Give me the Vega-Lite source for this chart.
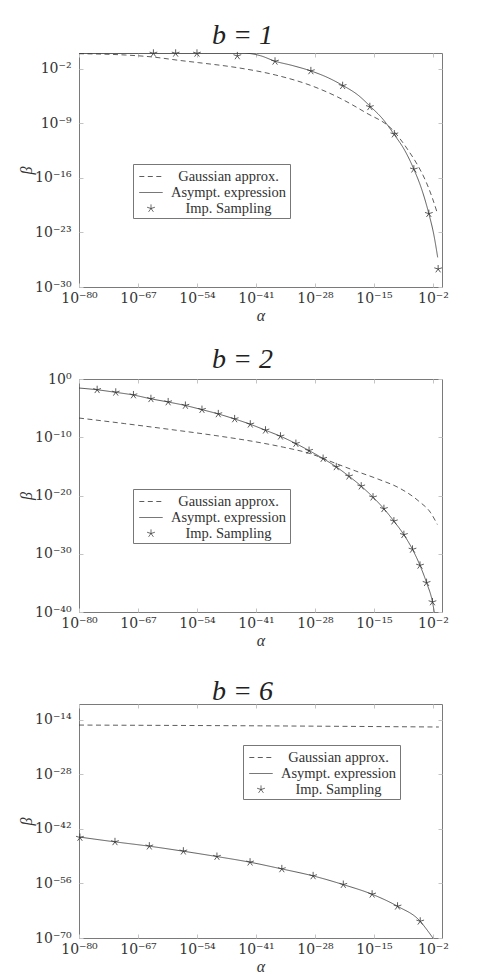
{
  "$schema": "https://vega.github.io/schema/vega-lite/v6.json",
  "background": "white",
  "padding": {"left": 18, "top": 21, "right": 5, "bottom": 5},
  "bounds": "flush",
  "spacing": 92,
  "resolve": {"scale": {"shape": "independent", "strokeDash": "independent"}},
  "config": {
    "view": {"stroke": "#7a7a7a", "strokeWidth": 1},
    "axis": {
      "domain": false, "grid": false, "ticks": true, "tickColor": "#c4c4c4", "tickSize": -4, "tickWidth": 1,
      "labelFont": "DejaVu Serif", "labelFontSize": 14, "labelColor": "#333333", "labelFlush": false, "labelOverlap": false,
      "titleFont": "Liberation Serif", "titleFontSize": 16, "titleFontStyle": "italic", "titleFontWeight": "normal", "titleColor": "#333333",
      "labelExpr": "'10' + replace(replace(replace(replace(replace(replace(replace(replace(replace(replace(replace('' + round(log(datum.value) / LN10), '-', '⁻'), regexp('0', 'g'), '⁰'), regexp('1', 'g'), '¹'), regexp('2', 'g'), '²'), regexp('3', 'g'), '³'), regexp('4', 'g'), '⁴'), regexp('5', 'g'), '⁵'), regexp('6', 'g'), '⁶'), regexp('7', 'g'), '⁷'), regexp('8', 'g'), '⁸'), regexp('9', 'g'), '⁹')"
    },
    "title": {"font": "Liberation Serif", "fontSize": 28, "fontStyle": "italic", "fontWeight": "normal", "color": "#222222", "anchor": "middle", "frame": "group", "dx": -18, "offset": -2, "baseline": "alphabetic"},
    "legend": {
      "strokeColor": "#777777", "fillColor": "white", "padding": 3, "symbolSize": 324, "symbolOffset": 5.5,
      "symbolStrokeColor": "#333333", "symbolStrokeWidth": 0.8, "symbolFillColor": "transparent",
      "labelFont": "Liberation Serif", "labelFontSize": 14.5, "labelColor": "#333333", "labelAlign": "center", "labelOffset": 68,
      "rowPadding": 0, "labelLimit": 300
    }
  },
  "datasets": {
    "l1": [
      {"alpha": 1e-80, "beta": 0.81, "series": "Gaussian approx."},
      {"alpha": 2.0e-70, "beta": 0.55, "series": "Gaussian approx."},
      {"alpha": 1.585e-64, "beta": 0.309, "series": "Gaussian approx."},
      {"alpha": 1e-58, "beta": 0.115, "series": "Gaussian approx."},
      {"alpha": 2.512e-54, "beta": 5.75e-2, "series": "Gaussian approx."},
      {"alpha": 7.943e-46, "beta": 1.318e-2, "series": "Gaussian approx."},
      {"alpha": 1.995e-37, "beta": 1.514e-3, "series": "Gaussian approx."},
      {"alpha": 2.512e-29, "beta": 5.888e-5, "series": "Gaussian approx."},
      {"alpha": 1.995e-23, "beta": 1.862e-6, "series": "Gaussian approx."},
      {"alpha": 1.585e-17, "beta": 2.239e-8, "series": "Gaussian approx."},
      {"alpha": 1e-11, "beta": 1.622e-10, "series": "Gaussian approx."},
      {"alpha": 5.012e-8, "beta": 2.512e-13, "series": "Gaussian approx."},
      {"alpha": 3.548e-6, "beta": 5.012e-15, "series": "Gaussian approx."},
      {"alpha": 2.512e-4, "beta": 3.981e-17, "series": "Gaussian approx."},
      {"alpha": 7.079e-3, "beta": 2.818e-19, "series": "Gaussian approx."},
      {"alpha": 8.913e-2, "beta": 3.162e-21, "series": "Gaussian approx."},
      {"alpha": 1e-80, "beta": 1, "series": "Asympt. expression"},
      {"alpha": 1e-44, "beta": 1, "series": "Asympt. expression"},
      {"alpha": 1e-40, "beta": 0.4467, "series": "Asympt. expression"},
      {"alpha": 1.585e-37, "beta": 8.913e-2, "series": "Asympt. expression"},
      {"alpha": 1e-33, "beta": 2.512e-2, "series": "Asympt. expression"},
      {"alpha": 1.259e-29, "beta": 5.012e-3, "series": "Asympt. expression"},
      {"alpha": 1e-25, "beta": 6.310e-4, "series": "Asympt. expression"},
      {"alpha": 1.259e-22, "beta": 7.079e-5, "series": "Asympt. expression"},
      {"alpha": 3.162e-19, "beta": 3.981e-6, "series": "Asympt. expression"},
      {"alpha": 1.585e-16, "beta": 1.413e-7, "series": "Asympt. expression"},
      {"alpha": 1e-13, "beta": 3.162e-9, "series": "Asympt. expression"},
      {"alpha": 2.512e-11, "beta": 3.981e-11, "series": "Asympt. expression"},
      {"alpha": 6.310e-9, "beta": 3.162e-13, "series": "Asympt. expression"},
      {"alpha": 6.310e-7, "beta": 1.259e-15, "series": "Asympt. expression"},
      {"alpha": 3.981e-5, "beta": 2.512e-18, "series": "Asympt. expression"},
      {"alpha": 1.259e-3, "beta": 2.512e-21, "series": "Asympt. expression"},
      {"alpha": 1.585e-2, "beta": 5.012e-24, "series": "Asympt. expression"},
      {"alpha": 0.1122, "beta": 6.310e-27, "series": "Asympt. expression"}
    ],
    "p1": [
      {"alpha": 2.512e-64, "beta": 0.9, "series": "Imp. Sampling"},
      {"alpha": 1.995e-59, "beta": 0.9, "series": "Imp. Sampling"},
      {"alpha": 1e-54, "beta": 0.9, "series": "Imp. Sampling"},
      {"alpha": 7.943e-46, "beta": 0.417, "series": "Imp. Sampling"},
      {"alpha": 1.585e-37, "beta": 8.511e-2, "series": "Imp. Sampling"},
      {"alpha": 1.259e-29, "beta": 5.012e-3, "series": "Imp. Sampling"},
      {"alpha": 1.259e-22, "beta": 6.310e-5, "series": "Imp. Sampling"},
      {"alpha": 1.259e-16, "beta": 1.259e-7, "series": "Imp. Sampling"},
      {"alpha": 3.162e-11, "beta": 3.981e-11, "series": "Imp. Sampling"},
      {"alpha": 6.310e-7, "beta": 1.259e-15, "series": "Imp. Sampling"},
      {"alpha": 1.259e-3, "beta": 2.512e-21, "series": "Imp. Sampling"},
      {"alpha": 0.1413, "beta": 1.995e-28, "series": "Imp. Sampling"}
    ],
    "l2": [
      {"alpha": 1e-80, "beta": 1.995e-7, "series": "Gaussian approx."},
      {"alpha": 1e-70, "beta": 2.239e-8, "series": "Gaussian approx."},
      {"alpha": 1e-60, "beta": 2.239e-9, "series": "Gaussian approx."},
      {"alpha": 1e-50, "beta": 1.995e-10, "series": "Gaussian approx."},
      {"alpha": 1e-41, "beta": 1.585e-11, "series": "Gaussian approx."},
      {"alpha": 1e-35, "beta": 1.995e-12, "series": "Gaussian approx."},
      {"alpha": 5.012e-30, "beta": 1.778e-13, "series": "Gaussian approx."},
      {"alpha": 3.981e-24, "beta": 3.162e-15, "series": "Gaussian approx."},
      {"alpha": 1e-19, "beta": 1.585e-16, "series": "Gaussian approx."},
      {"alpha": 1.259e-14, "beta": 5.754e-18, "series": "Gaussian approx."},
      {"alpha": 3.162e-10, "beta": 2.089e-19, "series": "Gaussian approx."},
      {"alpha": 7.943e-6, "beta": 1.047e-21, "series": "Gaussian approx."},
      {"alpha": 3.162e-3, "beta": 1.096e-23, "series": "Gaussian approx."},
      {"alpha": 9.333e-2, "beta": 1.072e-25, "series": "Gaussian approx."},
      {"alpha": 1e-80, "beta": 2.818e-2, "series": "Asympt. expression"},
      {"alpha": 1e-76, "beta": 1.413e-2, "series": "Asympt. expression"},
      {"alpha": 1.259e-72, "beta": 5.129e-3, "series": "Asympt. expression"},
      {"alpha": 1e-68, "beta": 1.778e-3, "series": "Asympt. expression"},
      {"alpha": 7.079e-65, "beta": 3.981e-4, "series": "Asympt. expression"},
      {"alpha": 4.467e-61, "beta": 1.122e-4, "series": "Asympt. expression"},
      {"alpha": 2.818e-57, "beta": 2.818e-5, "series": "Asympt. expression"},
      {"alpha": 1.259e-53, "beta": 5.495e-6, "series": "Asympt. expression"},
      {"alpha": 5.012e-50, "beta": 1e-6, "series": "Asympt. expression"},
      {"alpha": 1.995e-46, "beta": 1.380e-7, "series": "Asympt. expression"},
      {"alpha": 5.623e-43, "beta": 1.698e-8, "series": "Asympt. expression"},
      {"alpha": 1.259e-39, "beta": 1.585e-9, "series": "Asympt. expression"},
      {"alpha": 2.512e-36, "beta": 1.479e-10, "series": "Asympt. expression"},
      {"alpha": 6.310e-33, "beta": 8.128e-12, "series": "Asympt. expression"},
      {"alpha": 5.012e-30, "beta": 5.129e-13, "series": "Asympt. expression"},
      {"alpha": 6.310e-27, "beta": 2.188e-14, "series": "Asympt. expression"},
      {"alpha": 5.012e-24, "beta": 8.128e-16, "series": "Asympt. expression"},
      {"alpha": 3.162e-21, "beta": 2.042e-17, "series": "Asympt. expression"},
      {"alpha": 1.585e-18, "beta": 3.981e-19, "series": "Asympt. expression"},
      {"alpha": 6.310e-16, "beta": 5.129e-21, "series": "Asympt. expression"},
      {"alpha": 1.585e-13, "beta": 5.248e-23, "series": "Asympt. expression"},
      {"alpha": 2.512e-11, "beta": 3.981e-25, "series": "Asympt. expression"},
      {"alpha": 3.981e-9, "beta": 1.820e-27, "series": "Asympt. expression"},
      {"alpha": 3.162e-7, "beta": 5.623e-30, "series": "Asympt. expression"},
      {"alpha": 1.413e-5, "beta": 1e-32, "series": "Asympt. expression"},
      {"alpha": 3.981e-4, "beta": 1.072e-35, "series": "Asympt. expression"},
      {"alpha": 7.943e-3, "beta": 5.248e-39, "series": "Asympt. expression"},
      {"alpha": 1.995e-2, "beta": 1e-40, "series": "Asympt. expression"}
    ],
    "p2": [
      {"alpha": 1e-76, "beta": 1.413e-2, "series": "Imp. Sampling"},
      {"alpha": 1.259e-72, "beta": 5.129e-3, "series": "Imp. Sampling"},
      {"alpha": 1e-68, "beta": 1.778e-3, "series": "Imp. Sampling"},
      {"alpha": 7.079e-65, "beta": 3.981e-4, "series": "Imp. Sampling"},
      {"alpha": 4.467e-61, "beta": 1.122e-4, "series": "Imp. Sampling"},
      {"alpha": 2.818e-57, "beta": 2.818e-5, "series": "Imp. Sampling"},
      {"alpha": 1.259e-53, "beta": 5.495e-6, "series": "Imp. Sampling"},
      {"alpha": 5.012e-50, "beta": 1e-6, "series": "Imp. Sampling"},
      {"alpha": 1.995e-46, "beta": 1.380e-7, "series": "Imp. Sampling"},
      {"alpha": 5.623e-43, "beta": 1.698e-8, "series": "Imp. Sampling"},
      {"alpha": 1.259e-39, "beta": 1.585e-9, "series": "Imp. Sampling"},
      {"alpha": 2.512e-36, "beta": 1.479e-10, "series": "Imp. Sampling"},
      {"alpha": 6.310e-33, "beta": 8.128e-12, "series": "Imp. Sampling"},
      {"alpha": 5.012e-30, "beta": 5.129e-13, "series": "Imp. Sampling"},
      {"alpha": 6.310e-27, "beta": 2.188e-14, "series": "Imp. Sampling"},
      {"alpha": 5.012e-24, "beta": 8.128e-16, "series": "Imp. Sampling"},
      {"alpha": 3.162e-21, "beta": 2.042e-17, "series": "Imp. Sampling"},
      {"alpha": 1.585e-18, "beta": 3.981e-19, "series": "Imp. Sampling"},
      {"alpha": 6.310e-16, "beta": 5.129e-21, "series": "Imp. Sampling"},
      {"alpha": 1.585e-13, "beta": 5.248e-23, "series": "Imp. Sampling"},
      {"alpha": 2.512e-11, "beta": 3.981e-25, "series": "Imp. Sampling"},
      {"alpha": 3.981e-9, "beta": 1.820e-27, "series": "Imp. Sampling"},
      {"alpha": 3.162e-7, "beta": 5.623e-30, "series": "Imp. Sampling"},
      {"alpha": 1.413e-5, "beta": 1e-32, "series": "Imp. Sampling"},
      {"alpha": 3.981e-4, "beta": 1.072e-35, "series": "Imp. Sampling"},
      {"alpha": 7.943e-3, "beta": 5.248e-39, "series": "Imp. Sampling"}
    ],
    "l3": [
      {"alpha": 1e-80, "beta": 3.981e-16, "series": "Gaussian approx."},
      {"alpha": 1e-40, "beta": 2.512e-16, "series": "Gaussian approx."},
      {"alpha": 0.1995, "beta": 1.259e-16, "series": "Gaussian approx."},
      {"alpha": 1e-80, "beta": 7.943e-45, "series": "Asympt. expression"},
      {"alpha": 8.511e-73, "beta": 4.467e-46, "series": "Asympt. expression"},
      {"alpha": 3.162e-65, "beta": 3.467e-47, "series": "Asympt. expression"},
      {"alpha": 1e-57, "beta": 1.778e-48, "series": "Asympt. expression"},
      {"alpha": 2.512e-50, "beta": 7.586e-50, "series": "Asympt. expression"},
      {"alpha": 5.012e-43, "beta": 2.692e-51, "series": "Asympt. expression"},
      {"alpha": 5.012e-36, "beta": 5.129e-53, "series": "Asympt. expression"},
      {"alpha": 3.981e-29, "beta": 8.318e-55, "series": "Asympt. expression"},
      {"alpha": 1.778e-22, "beta": 4.898e-57, "series": "Asympt. expression"},
      {"alpha": 3.981e-16, "beta": 1.622e-59, "series": "Asympt. expression"},
      {"alpha": 1.585e-10, "beta": 1.349e-62, "series": "Asympt. expression"},
      {"alpha": 1.585e-5, "beta": 1.905e-66, "series": "Asympt. expression"},
      {"alpha": 5.623e-4, "beta": 1e-68, "series": "Asympt. expression"},
      {"alpha": 1e-2, "beta": 1e-70, "series": "Asympt. expression"}
    ],
    "p3": [
      {"alpha": 1.585e-80, "beta": 5.754e-45, "series": "Imp. Sampling"},
      {"alpha": 8.511e-73, "beta": 4.467e-46, "series": "Imp. Sampling"},
      {"alpha": 3.162e-65, "beta": 3.467e-47, "series": "Imp. Sampling"},
      {"alpha": 1e-57, "beta": 1.778e-48, "series": "Imp. Sampling"},
      {"alpha": 2.512e-50, "beta": 7.586e-50, "series": "Imp. Sampling"},
      {"alpha": 5.012e-43, "beta": 2.692e-51, "series": "Imp. Sampling"},
      {"alpha": 5.012e-36, "beta": 5.129e-53, "series": "Imp. Sampling"},
      {"alpha": 3.981e-29, "beta": 8.318e-55, "series": "Imp. Sampling"},
      {"alpha": 1.778e-22, "beta": 4.898e-57, "series": "Imp. Sampling"},
      {"alpha": 3.981e-16, "beta": 1.622e-59, "series": "Imp. Sampling"},
      {"alpha": 1.585e-10, "beta": 1.349e-62, "series": "Imp. Sampling"},
      {"alpha": 1.585e-5, "beta": 1.905e-66, "series": "Imp. Sampling"}
    ]
  },
  "vconcat": [
    {
      "width": 363, "height": 234,
      "title": {"text": "b = 1"},
      "resolve": {"axis": {"x": "independent", "y": "independent"}},
      "layer": [
        {
          "data": {"name": "l1"},
          "mark": {"type": "line", "strokeWidth": 0.8, "color": "#333333", "interpolate": "monotone", "clip": true},
          "encoding": {
            "x": {"field": "alpha", "type": "quantitative", "scale": {"type": "log", "domain": [1e-80, 1], "nice": false},
                  "axis": {"orient": "bottom", "values": [1e-80, 1e-67, 1e-54, 1e-41, 1e-28, 1e-15, 1e-2], "title": "α", "labelPadding": 8, "titlePadding": 2}},
            "y": {"field": "beta", "type": "quantitative", "scale": {"type": "log", "domain": [1e-30, 1], "nice": false},
                  "axis": {"orient": "left", "values": [1e-30, 1e-23, 1e-16, 1e-9, 1e-2], "title": "β", "labelPadding": 12, "titlePadding": 0}},
            "strokeDash": {"field": "series", "type": "nominal",
                  "scale": {"domain": ["Gaussian approx.", "Asympt. expression", "Imp. Sampling"], "range": [[5, 3.5], [1, 0], [1, 0]]},
                  "legend": {"title": null, "orient": "none", "legendX": 54, "legendY": 111}}
          }
        },
        {
          "data": {"name": "p1"},
          "mark": {"type": "point", "filled": false, "size": 324, "strokeWidth": 0.8, "color": "#333333", "opacity": 1},
          "encoding": {
            "x": {"field": "alpha", "type": "quantitative", "scale": {"type": "log", "domain": [1e-80, 1], "nice": false}, "axis": null},
            "y": {"field": "beta", "type": "quantitative", "scale": {"type": "log", "domain": [1e-30, 1], "nice": false}, "axis": null},
            "shape": {"field": "series", "type": "nominal",
                  "scale": {"domain": ["Gaussian approx.", "Asympt. expression", "Imp. Sampling"], "range": ["M-1.3,0L1.3,0", "M-1.3,0L1.3,0", "M0,0L0,-0.45M0,0L0.428,-0.139M0,0L0.265,0.364M0,0L-0.265,0.364M0,0L-0.428,-0.139"]},
                  "legend": {"title": null, "orient": "none", "legendX": 54, "legendY": 111}}
          }
        },
        {
          "data": {"name": "l1"},
          "mark": {"type": "line", "opacity": 0},
          "encoding": {
            "x": {"field": "alpha", "type": "quantitative", "scale": {"type": "log", "domain": [1e-80, 1], "nice": false},
                  "axis": {"orient": "top", "values": [1e-80, 1e-67, 1e-54, 1e-41, 1e-28, 1e-15, 1e-2], "labels": false, "title": null}},
            "y": {"field": "beta", "type": "quantitative", "scale": {"type": "log", "domain": [1e-30, 1], "nice": false},
                  "axis": {"orient": "right", "values": [1e-30, 1e-23, 1e-16, 1e-9, 1e-2], "labels": false, "title": null}}
          }
        }
      ]
    },
    {
      "width": 363, "height": 233,
      "title": {"text": "b = 2"},
      "resolve": {"axis": {"x": "independent", "y": "independent"}},
      "layer": [
        {
          "data": {"name": "l2"},
          "mark": {"type": "line", "strokeWidth": 0.8, "color": "#333333", "interpolate": "monotone", "clip": true},
          "encoding": {
            "x": {"field": "alpha", "type": "quantitative", "scale": {"type": "log", "domain": [1e-80, 1], "nice": false},
                  "axis": {"orient": "bottom", "values": [1e-80, 1e-67, 1e-54, 1e-41, 1e-28, 1e-15, 1e-2], "title": "α", "labelPadding": 8, "titlePadding": 2}},
            "y": {"field": "beta", "type": "quantitative", "scale": {"type": "log", "domain": [1e-40, 1], "nice": false},
                  "axis": {"orient": "left", "values": [1e-40, 1e-30, 1e-20, 1e-10, 1], "title": "β", "labelPadding": 12, "titlePadding": 0}},
            "strokeDash": {"field": "series", "type": "nominal",
                  "scale": {"domain": ["Gaussian approx.", "Asympt. expression", "Imp. Sampling"], "range": [[5, 3.5], [1, 0], [1, 0]]},
                  "legend": {"title": null, "orient": "none", "legendX": 54, "legendY": 110}}
          }
        },
        {
          "data": {"name": "p2"},
          "mark": {"type": "point", "filled": false, "size": 324, "strokeWidth": 0.8, "color": "#333333", "opacity": 1},
          "encoding": {
            "x": {"field": "alpha", "type": "quantitative", "scale": {"type": "log", "domain": [1e-80, 1], "nice": false}, "axis": null},
            "y": {"field": "beta", "type": "quantitative", "scale": {"type": "log", "domain": [1e-40, 1], "nice": false}, "axis": null},
            "shape": {"field": "series", "type": "nominal",
                  "scale": {"domain": ["Gaussian approx.", "Asympt. expression", "Imp. Sampling"], "range": ["M-1.3,0L1.3,0", "M-1.3,0L1.3,0", "M0,0L0,-0.45M0,0L0.428,-0.139M0,0L0.265,0.364M0,0L-0.265,0.364M0,0L-0.428,-0.139"]},
                  "legend": {"title": null, "orient": "none", "legendX": 54, "legendY": 110}}
          }
        },
        {
          "data": {"name": "l2"},
          "mark": {"type": "line", "opacity": 0},
          "encoding": {
            "x": {"field": "alpha", "type": "quantitative", "scale": {"type": "log", "domain": [1e-80, 1], "nice": false},
                  "axis": {"orient": "top", "values": [1e-80, 1e-67, 1e-54, 1e-41, 1e-28, 1e-15, 1e-2], "labels": false, "title": null}},
            "y": {"field": "beta", "type": "quantitative", "scale": {"type": "log", "domain": [1e-40, 1], "nice": false},
                  "axis": {"orient": "right", "values": [1e-40, 1e-30, 1e-20, 1e-10, 1], "labels": false, "title": null}}
          }
        }
      ]
    },
    {
      "width": 363, "height": 234,
      "title": {"text": "b = 6"},
      "resolve": {"axis": {"x": "independent", "y": "independent"}},
      "layer": [
        {
          "data": {"name": "l3"},
          "mark": {"type": "line", "strokeWidth": 0.8, "color": "#333333", "interpolate": "monotone", "clip": true},
          "encoding": {
            "x": {"field": "alpha", "type": "quantitative", "scale": {"type": "log", "domain": [1e-80, 1], "nice": false},
                  "axis": {"orient": "bottom", "values": [1e-80, 1e-67, 1e-54, 1e-41, 1e-28, 1e-15, 1e-2], "title": "α", "labelPadding": 8, "titlePadding": 2}},
            "y": {"field": "beta", "type": "quantitative", "scale": {"type": "log", "domain": [1e-70, 1e-10], "nice": false},
                  "axis": {"orient": "left", "values": [1e-70, 1e-56, 1e-42, 1e-28, 1e-14], "title": "β", "labelPadding": 12, "titlePadding": 0}},
            "strokeDash": {"field": "series", "type": "nominal",
                  "scale": {"domain": ["Gaussian approx.", "Asympt. expression", "Imp. Sampling"], "range": [[5, 3.5], [1, 0], [1, 0]]},
                  "legend": {"title": null, "orient": "none", "legendX": 164, "legendY": 41}}
          }
        },
        {
          "data": {"name": "p3"},
          "mark": {"type": "point", "filled": false, "size": 324, "strokeWidth": 0.8, "color": "#333333", "opacity": 1},
          "encoding": {
            "x": {"field": "alpha", "type": "quantitative", "scale": {"type": "log", "domain": [1e-80, 1], "nice": false}, "axis": null},
            "y": {"field": "beta", "type": "quantitative", "scale": {"type": "log", "domain": [1e-70, 1e-10], "nice": false}, "axis": null},
            "shape": {"field": "series", "type": "nominal",
                  "scale": {"domain": ["Gaussian approx.", "Asympt. expression", "Imp. Sampling"], "range": ["M-1.3,0L1.3,0", "M-1.3,0L1.3,0", "M0,0L0,-0.45M0,0L0.428,-0.139M0,0L0.265,0.364M0,0L-0.265,0.364M0,0L-0.428,-0.139"]},
                  "legend": {"title": null, "orient": "none", "legendX": 164, "legendY": 41}}
          }
        },
        {
          "data": {"name": "l3"},
          "mark": {"type": "line", "opacity": 0},
          "encoding": {
            "x": {"field": "alpha", "type": "quantitative", "scale": {"type": "log", "domain": [1e-80, 1], "nice": false},
                  "axis": {"orient": "top", "values": [1e-80, 1e-67, 1e-54, 1e-41, 1e-28, 1e-15, 1e-2], "labels": false, "title": null}},
            "y": {"field": "beta", "type": "quantitative", "scale": {"type": "log", "domain": [1e-70, 1e-10], "nice": false},
                  "axis": {"orient": "right", "values": [1e-70, 1e-56, 1e-42, 1e-28, 1e-14], "labels": false, "title": null}}
          }
        }
      ]
    }
  ]
}
